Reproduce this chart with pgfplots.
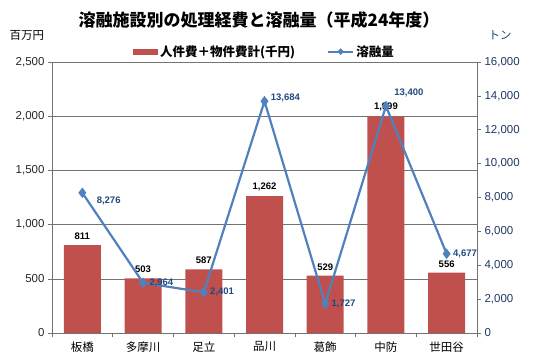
\documentclass[border=0pt]{standalone}
\usepackage{pgfplots}
\pgfplotsset{compat=1.18}
\usepackage{fontspec}
\setmainfont{Noto Sans CJK JP}
\newfontfamily\arial{Liberation Sans}
\definecolor{barred}{HTML}{C0504D}
\definecolor{lineblue}{HTML}{4F81BD}
\definecolor{navy}{HTML}{1F3864}
\definecolor{lblblue}{HTML}{1F497D}
\begin{document}
\begin{tikzpicture}[x=1pt,y=1pt]
\useasboundingbox (-52,-28) rectangle (482,333);
\begin{axis}[
  at={(0,0)}, anchor=south west,
  scale only axis, width=425pt, height=271pt,
  xmin=-0.5, xmax=6.5, ymin=0, ymax=2500,
  axis x line*=bottom, axis y line*=left,
  axis line style={gray!90!black, line width=0.6pt},
  xtick={0,...,6},
  xticklabels={板橋,多摩川,足立,品川,葛飾,中防,世田谷},
  x tick label style={font=\fontsize{11.5}{13}\selectfont, yshift=-1pt},
  major x tick style={draw=none},
  minor xtick={-0.5,0.5,...,6.5},
  minor x tick style={gray!90!black, line width=0.6pt},
  minor tick length=4pt,
  ytick={0,500,...,2500},
  scaled y ticks=false,
  major tick length=4pt,
  y tick style={gray!90!black, line width=0.6pt},
  tick align=outside,
  ymajorgrids, grid style={gray!90!black, line width=0.6pt},
  y tick label style={font=\arial\fontsize{11.5}{13}\selectfont, color=black!85},
  /pgf/number format/assume math mode=true,
  /pgf/number format/1000 sep={,},
  ybar, bar width=37pt,
  legend style={draw=none, at={(0.5,1.0)}, anchor=south, legend columns=2,
    font=\bfseries\fontsize{12.5}{14}\selectfont,
    /tikz/every even column/.append style={column sep=30pt}},
  clip=false,
]
\addplot[fill=barred, draw=none,
  nodes near coords,
  every node near coord/.append style={font=\arial\bfseries\fontsize{9.5}{11}\selectfont, color=black, yshift=2pt},
  legend image code/.code={\fill[barred] (0pt,-3pt) rectangle (25pt,3pt);}
] coordinates {(0,811) (1,503) (2,587) (3,1262) (4,529) (5,1999) (6,556)};
\addlegendentry{人件費＋物件費計(千円)}
\addlegendimage{legend image code/.code={\draw[lineblue, line width=2.2pt] (0pt,0pt)--(25pt,0pt); \fill[lineblue] (12.5pt,0pt) +(0,3pt)--+(3pt,0)--+(0,-3pt)--+(-3pt,0)--cycle;}}
\addlegendentry{溶融量}
\end{axis}
\begin{axis}[
  at={(0,0)}, anchor=south west,
  scale only axis, width=425pt, height=271pt,
  xmin=-0.5, xmax=6.5, ymin=0, ymax=16000,
  axis x line=none, axis y line*=right,
  axis line style={gray!90!black, line width=0.6pt},
  ytick={0,2000,...,16000},
  scaled y ticks=false,
  major tick length=4pt, tick align=outside,
  y tick style={gray!90!black, line width=0.6pt},
  y tick label style={font=\arial\fontsize{11.5}{13}\selectfont, color=navy, /pgf/number format/fixed},
  /pgf/number format/assume math mode=true,
  /pgf/number format/fixed,
  /pgf/number format/1000 sep={,},
  clip=false,
]
\addplot[lineblue, line width=2.2pt, mark=diamond*, mark size=3.5pt,
  mark options={solid, fill=lineblue},
  nodes near coords,
  every node near coord/.append style={font=\arial\bfseries\fontsize{9.5}{11}\selectfont, color=lblblue, anchor=west, xshift=2pt},
  coordinate style/.condition={\coordindex==0}{yshift=-8pt, xshift=8pt},
  coordinate style/.condition={\coordindex==3}{anchor=south, xshift=0pt, yshift=3pt},
  coordinate style/.condition={\coordindex==5}{anchor=south, xshift=2pt, yshift=13pt},
] coordinates {(0,8276) (1,2964) (2,2401) (3,13684) (4,1727) (5,13400) (6,4677)};
\end{axis}
\node[font=\bfseries\fontsize{17}{19}\selectfont] at (207,313) {溶融施設別の処理経費と溶融量（平成24年度）};
\node[font=\fontsize{11.5}{13}\selectfont] at (-25,298) {百万円};
\node[font=\fontsize{11.5}{13}\selectfont, color=lblblue] at (448,298) {トン};
\end{tikzpicture}
\end{document}
